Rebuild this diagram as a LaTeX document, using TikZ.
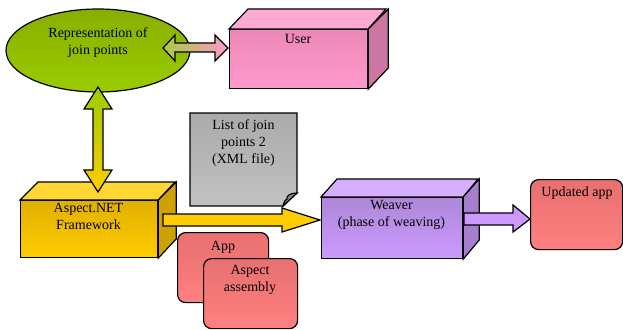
\documentclass[tikz,border=0pt]{standalone}
\usepackage{fontspec}
\setmainfont{Liberation Serif}
\usetikzlibrary{calc,shapes.geometric}
\definecolor{ellTop}{HTML}{88AE00}
\definecolor{ellBot}{HTML}{9ACC00}
\definecolor{pinkTop}{HTML}{EC88B8}
\definecolor{pinkBot}{HTML}{FF99CC}
\definecolor{pinkLid}{HTML}{FFAAD5}
\definecolor{pinkSide}{HTML}{CC77A3}
\definecolor{yelTop}{HTML}{E0B000}
\definecolor{yelBot}{HTML}{FFCC00}
\definecolor{yelLid}{HTML}{FFD633}
\definecolor{yelSide}{HTML}{CCA300}
\definecolor{purTop}{HTML}{AE88D8}
\definecolor{purBot}{HTML}{CC99FF}
\definecolor{purLid}{HTML}{D6ADFF}
\definecolor{purSide}{HTML}{A67FCC}
\definecolor{redTop}{HTML}{E87070}
\definecolor{redBot}{HTML}{FF8080}
\definecolor{grayTop}{HTML}{AAAAAA}
\definecolor{grayBot}{HTML}{C2C2C2}
\definecolor{grayFold}{HTML}{888888}
\definecolor{lightGreen}{HTML}{A6CC40}
\tikzset{
  outl/.style={draw=black, line width=1.2pt, line join=miter},
  front/.style={outl, rectangle, inner sep=0pt, anchor=north west},
  rbox/.style={outl, rectangle, rounded corners=8pt, inner sep=0pt, anchor=north west, top color=redTop, bottom color=redBot},
  lbl/.style={font=\fontsize{14}{17}\selectfont, align=center, inner sep=0pt, anchor=north},
}
\begin{document}
\begin{tikzpicture}[x=1pt,y=-1pt]
\useasboundingbox (0,0) rectangle (623,329);
% Ellipse
\node[outl, ellipse, minimum width=184pt, minimum height=83pt, inner sep=0pt, top color=ellTop, bottom color=ellBot] (rep) at (98,50.5) {};
\node[lbl] (repT) at (98,27) {Representation of\\join points};
% User cuboid
\node[front, minimum width=138pt, minimum height=59pt, top color=pinkTop, bottom color=pinkBot] (user) at (229,29) {};
\fill[pinkLid, outl] (user.north west) -- ++(19,-20) -- ++(138,0) -- (user.north east) -- cycle;
\fill[pinkSide, outl] (user.north east) -- ++(20,-20) -- ++(0,59) -- (user.south east) -- cycle;
\node[lbl] (userT) at (298,34) {User};
% Aspect.NET cuboid
\node[front, minimum width=137pt, minimum height=57pt, top color=yelTop, bottom color=yelBot] (asp) at (20,200) {};
\fill[yelLid, outl] (asp.north west) -- ++(18,-18) -- ++(137,0) -- (asp.north east) -- cycle;
\fill[yelSide, outl] (asp.north east) -- ++(18,-18) -- ++(0,57) -- (asp.south east) -- cycle;
\node[lbl] (aspT) at (88.5,203) {Aspect.NET\\Framework};
% Weaver cuboid
\node[front, minimum width=141pt, minimum height=61pt, top color=purTop, bottom color=purBot] (weav) at (321,197) {};
\fill[purLid, outl] (weav.north west) -- ++(16,-18) -- ++(141,0) -- (weav.north east) -- cycle;
\fill[purSide, outl] (weav.north east) -- ++(16,-18) -- ++(0,61) -- (weav.south east) -- cycle;
\node[lbl] (weavT) at (391.5,200) {Weaver\\(phase of weaving)};
% Document
\coordinate (docNW) at (190,113);
\shade[top color=grayTop, bottom color=grayBot, outl] (docNW) -- (297,113) -- (297,193) -- (283,206) -- (190,206) -- cycle;
\fill[grayFold, outl] (297,193) .. controls (290,193) and (286,196) .. (287,199) .. controls (285,200) .. (283,206) -- cycle;
\node[lbl] (docT) at (243.5,119) {List of join\\points 2\\(XML file)};
% Updated app
\node[rbox, minimum width=92pt, minimum height=70pt] (upd) at (530,179) {};
\node[lbl] (updT) at (577,187) {Updated app};
% App and Aspect assembly
\node[rbox, minimum width=91pt, minimum height=70pt] (app) at (177,232) {};
\node[lbl] (appT) at (223,241) {App};
\node[rbox, minimum width=94pt, minimum height=70pt] (aasm) at (203,258) {};
\node[lbl] (aasmT) at (250,265) {Aspect\\assembly};
% Horizontal double arrow (rep <-> user)
\coordinate (hA) at (163,48);
\coordinate (hB) at (228,48);
\shade[left color=lightGreen, right color=pinkBot, outl]
  (hA) -- ($(hA)+(12,-13)$) -- ($(hA)+(12,-5)$) -- ($(hB)+(-13,-5)$) -- ($(hB)+(-13,-13)$) -- (hB)
  -- ($(hB)+(-13,13)$) -- ($(hB)+(-13,4)$) -- ($(hA)+(12,4)$) -- ($(hA)+(12,13)$) -- cycle;
% Vertical double arrow (rep <-> asp)
\coordinate (vA) at (98,87);
\coordinate (vB) at (98,192);
\shade[top color=ellBot, bottom color=yelBot, outl]
  (vA) -- ($(vA)+(14,22)$) -- ($(vA)+(5,22)$) -- ($(vB)+(5,-22)$) -- ($(vB)+(14,-22)$) -- (vB)
  -- ($(vB)+(-14,-22)$) -- ($(vB)+(-5,-22)$) -- ($(vA)+(-5,22)$) -- ($(vA)+(-14,22)$) -- cycle;
% Yellow arrow (asp -> weav)
\coordinate (yA) at (163,220);
\coordinate (yB) at (320,220);
\fill[yelBot, outl] (yA) ++(0,-6) -- ($(yB)+(-38,-6)$) -- ($(yB)+(-38,-12)$) -- (yB) -- ($(yB)+(-38,12)$) -- ($(yB)+(-38,6)$) -- ($(yA)+(0,6)$) -- cycle;
% Purple arrow (weav -> upd)
\coordinate (pA) at (464,219);
\coordinate (pB) at (530,219);
\fill[purBot, outl] (pA) ++(0,-6) -- ($(pB)+(-17,-6)$) -- ($(pB)+(-17,-14)$) -- (pB) -- ($(pB)+(-17,13)$) -- ($(pB)+(-17,6)$) -- ($(pA)+(0,6)$) -- cycle;
\end{tikzpicture}
\end{document}
